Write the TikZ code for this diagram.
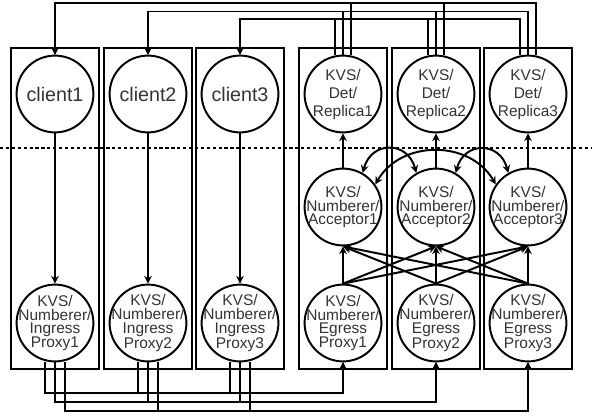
\documentclass[tikz,border=0pt]{standalone}
\usepackage{fontspec}
\setmainfont{Liberation Sans}
\usetikzlibrary{arrows.meta, calc, fit}

\tikzset{
  >={Stealth[length=5.5pt, width=5.5pt]},
  proc/.style={circle, draw, line width=1.4pt, minimum size=1.92cm, inner sep=-8pt,
    align=center, text=black!80, font=\fontsize{11}{9.9}\selectfont},
  replica/.style={proc, font=\fontsize{11}{12.8}\selectfont},
  client/.style={proc, font=\fontsize{14}{16}\selectfont},
  colbox/.style={draw, line width=1.4pt, inner xsep=0.11cm, inner ysep=0.16cm},
  link/.style={line width=1.4pt, ->},
}

\begin{document}
\begin{tikzpicture}[x=0.025cm, y=0.025cm]
\useasboundingbox (0,0) rectangle (592,417);

% client side
\foreach \i/\x in {1/55, 2/148, 3/240} {
  \node[client] (client\i) at (\x,323) {client\i};
  \node[proc] (ingress\i) at (\x,94) {KVS/\\Numberer/\\Ingress\\Proxy\i};
  \node[colbox, fit=(client\i)(ingress\i)] (ccol\i) {};
  \draw[link] (client\i) -- (ingress\i);
}

% store side
\foreach \i/\x in {1/343, 2/436, 3/528} {
  \node[replica] (replica\i) at (\x,323) {KVS/\\Det/\\Replica\i};
  \node[proc] (acceptor\i) at (\x,210) {KVS/\\Numberer/\\Acceptor\i};
  \node[proc] (egress\i) at (\x,94) {KVS/\\Numberer/\\Egress\\Proxy\i};
  \node[colbox, fit=(replica\i)(egress\i)] (scol\i) {};
  \draw[link] (acceptor\i) -- (replica\i);
}

% every egress proxy feeds every acceptor
\foreach \i in {1,2,3}
  \foreach \j in {1,2,3}
    \draw[link] (egress\i.north) -- (acceptor\j.south);

% acceptors talk to each other
\draw[link, <->] (acceptor1.60) to[out=75, in=105, looseness=1.6] (acceptor2.120);
\draw[link, <->] (acceptor2.60) to[out=75, in=105, looseness=1.6] (acceptor3.120);
\draw[link, <->] (acceptor1.35) to[out=60, in=120, looseness=1.1] (acceptor3.145);

% replicas answer the clients
\coordinate (tbus1) at (0,414);
\coordinate (tbus2) at (0,405.5);
\coordinate (tbus3) at (0,398);
\foreach \c/\dx in {1/8, 2/0, 3/-8}
  \foreach \r in {1,2,3}
    \draw[link] ($(replica\r.north)+(\dx,0)$) |- (client\c.north |- tbus\c) -- (client\c.north);

% ingress proxies hand requests to the egress proxies
\coordinate (bbus1) at (0,24);
\coordinate (bbus2) at (0,15);
\coordinate (bbus3) at (0,6);
\foreach \e/\dx in {1/-10, 2/0, 3/10}
  \foreach \c in {1,2,3}
    \draw[link] ($(ingress\c.south)+(\dx,0)$) |- (egress\e.south |- bbus\e) -- (egress\e.south);

% tier boundary
\draw[line width=1.4pt, dash pattern=on 2.3pt off 1.9pt] (0,269) -- (592,269);
\end{tikzpicture}
\end{document}
